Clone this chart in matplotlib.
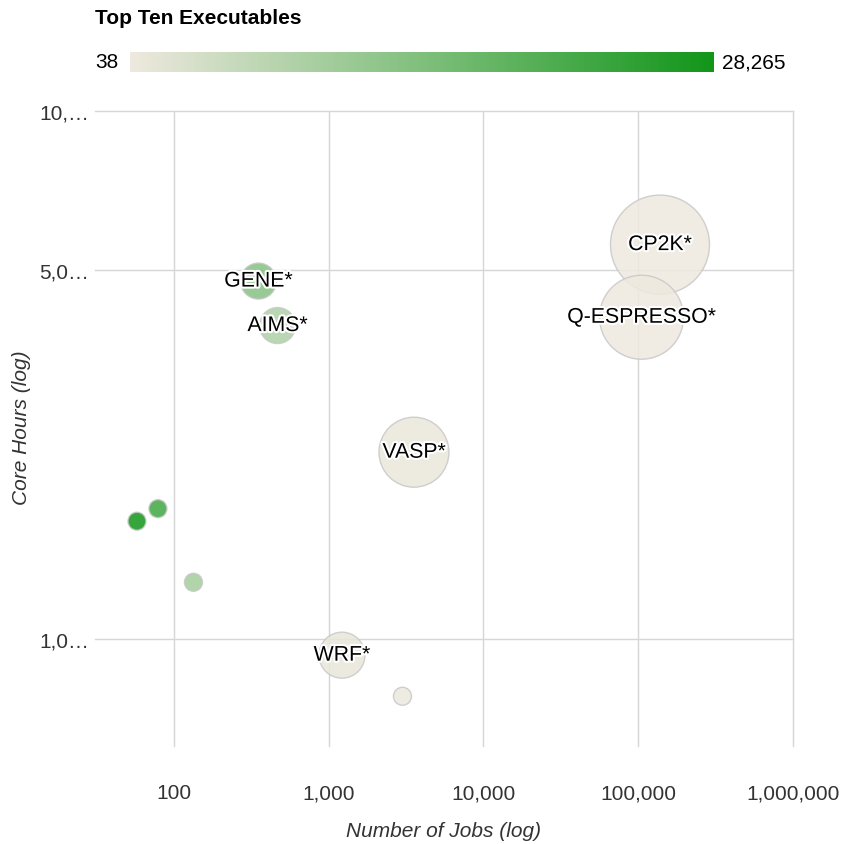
import numpy as np
import matplotlib
matplotlib.use("Agg")
import matplotlib.pyplot as plt
from matplotlib.colors import LinearSegmentedColormap, Normalize
import matplotlib.patheffects as pe

# ---- data ----
names = ["CP2K*", "Q-ESPRESSO*", "VASP*", "WRF*", "", "GENE*", "AIMS*", "", "", ""]
jobs = [138200, 105000, 3556, 1218, 2997, 351.6, 467, 57.7, 78.8, 133.7]
core_hours = [5.586e6, 4.07e6, 2.26e6, 0.933e6, 0.78e6, 4.765e6, 3.925e6, 1.673e6, 1.767e6, 1.282e6]
color_values = [40, 38, 636, 766, 260, 13550, 8400, 28265, 22400, 9590]
bubble_size = [2450, 1764, 1225, 529, 81, 324, 324, 81, 81, 81]

color_min, color_max = 38, 28265
color_min_label, color_max_label = "38", "28,265"
title = "Top Ten Executables"
x_ticks = [100, 1000, 10000, 100000, 1000000]
x_tick_labels = ["100", "1,000", "10,000", "100,000", "1,000,000"]
y_ticks = [1e6, 5e6, 1e7]
y_tick_labels = ["1,0\u2026", "5,0\u2026", "10,\u2026"]
x_label = "Number of Jobs (log)"
y_label = "Core Hours (log)"

# ---- style ----
plt.rcParams['font.family'] = ['Liberation Sans', 'DejaVu Sans']
W, H = 842, 845
fig = plt.figure(figsize=(W / 100, H / 100), dpi=100)
FS = 15.0

cmap = LinearSegmentedColormap.from_list("beige_green", ["#EEE9DF", "#12961A"])
norm = Normalize(vmin=color_min, vmax=color_max)

L, R, T, B = 95, 793, 112, 747
ax = fig.add_axes([L / W, 1 - B / H, (R - L) / W, (B - T) / H])
ax.set_xscale("log")
ax.set_yscale("log")
ax.set_xlim(30.9, 1e6)
ax.set_ylim(0.628e6, 1e7)

for s in ax.spines.values():
    s.set_visible(False)

ax.set_xticks(x_ticks)
ax.set_xticklabels(x_tick_labels)
ax.set_yticks(y_ticks)
ax.set_yticklabels(y_tick_labels)
ax.xaxis.set_minor_locator(matplotlib.ticker.NullLocator())
ax.yaxis.set_minor_locator(matplotlib.ticker.NullLocator())
ax.tick_params(axis="both", length=0, labelsize=FS, colors="#333333")
ax.tick_params(axis="x", pad=27)
ax.tick_params(axis="y", pad=4)
ax.grid(True, color="#d6d6d6", linewidth=1.0)
ax.set_axisbelow(True)
for gl in ax.get_xgridlines() + ax.get_ygridlines():
    gl.set_clip_on(False)

fig.text((L + R) / 2 / W, 1 - 832 / H, x_label, fontsize=FS, style="italic",
         color="#333333", ha="center", va="center")
fig.text(22 / W, 1 - 428 / H, y_label, fontsize=FS, style="italic",
         color="#333333", ha="center", va="center", rotation=90)

sizes = [z * 2.0736 for z in bubble_size]
ax.scatter(jobs, core_hours, s=sizes, c=color_values, cmap=cmap, norm=norm,
           alpha=0.85, edgecolors="#c8c8c8", linewidths=1.0, zorder=3)

for n, x, y in zip(names, jobs, core_hours):
    if n:
        ax.text(x, y, n, ha="center", va="center", fontsize=15.3, color="black", zorder=5,
                path_effects=[pe.withStroke(linewidth=3, foreground="white")])

# ---- colorbar ----
fig.text(95 / W, 1 - 18 / H, title, fontsize=FS, fontweight="bold", ha="left", va="center", color="#000000")
cax = fig.add_axes([130 / W, 1 - 73 / H, (714 - 130) / W, 20 / H])
grad = np.linspace(color_min, color_max, 512).reshape(1, -1)
cax.imshow(grad, aspect="auto", cmap=cmap, norm=norm, extent=[0, 1, 0, 1])
cax.set_axis_off()
fig.text(119 / W, 1 - 63 / H, color_min_label, fontsize=FS, ha="right", va="center", color="#000000")
fig.text(722 / W, 1 - 63 / H, color_max_label, fontsize=FS, ha="left", va="center", color="#000000")

fig.savefig("out.png", dpi=100)
